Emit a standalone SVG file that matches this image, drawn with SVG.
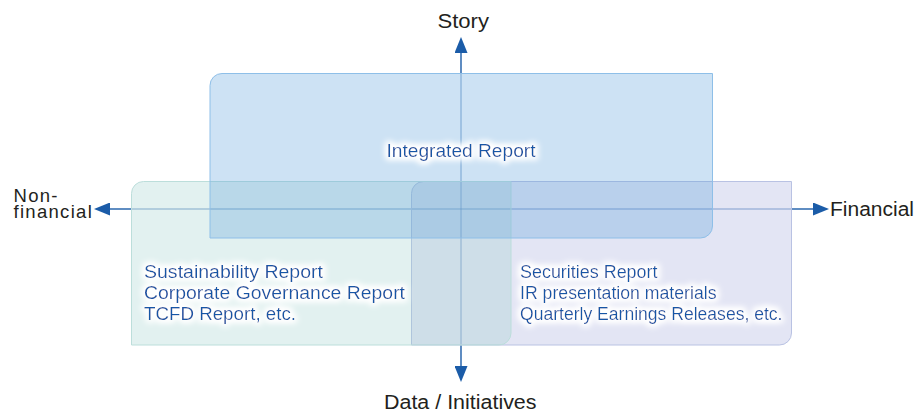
<svg xmlns="http://www.w3.org/2000/svg" width="917" height="412" viewBox="0 0 917 412">
<style>
.lbl{font-family:"Liberation Sans",Arial,sans-serif;font-size:18.8px;fill:#1656a6}
.ax{font-family:"Liberation Sans",Arial,sans-serif;font-size:19.5px;fill:#231f20}
.axis{stroke:#1b5ca8;stroke-width:1.4;fill:none}
.axin{stroke:#1b5ca8;stroke-opacity:0.4;stroke-width:1.4;fill:none}
</style>
<defs>
<marker id="ah" viewBox="0 0 16 13" refX="0" refY="6.5" markerWidth="16" markerHeight="13" markerUnits="userSpaceOnUse" orient="auto">
<path d="M0,0 L16,6.5 L0,13 Z" fill="#1b5ca8"/>
</marker>
<filter id="glow" x="-15%" y="-60%" width="130%" height="220%">
<feMorphology in="SourceAlpha" operator="dilate" radius="2" result="d"/>
<feGaussianBlur in="d" stdDeviation="3" result="b"/>
<feFlood flood-color="#ffffff"/>
<feComposite in2="b" operator="in" result="w"/>
<feMerge><feMergeNode in="w"/><feMergeNode in="w"/><feMergeNode in="SourceGraphic"/></feMerge>
</filter>
</defs>
<g id="connectors">
<line class="axis" x1="461" y1="74" x2="461" y2="53" marker-end="url(#ah)"/>
<line class="axis" x1="461" y1="345" x2="461" y2="366" marker-end="url(#ah)"/>
<line class="axis" x1="131.5" y1="209" x2="110" y2="209" marker-end="url(#ah)"/>
<line class="axis" x1="791.5" y1="209" x2="813" y2="209" marker-end="url(#ah)"/>
<line class="axin" x1="461" y1="74" x2="461" y2="345"/>
<line class="axin" x1="131.5" y1="209" x2="791.5" y2="209"/>
</g>
<g id="financial-box">
<path d="M411.5,345 V193.5 A12,12 0 0 1 423.5,181.5 H791.5 V333 A12,12 0 0 1 779.5,345 Z" fill="rgb(150,160,215)" fill-opacity="0.27" stroke="#b9c2e3" stroke-width="1"/>
</g>
<g id="nonfinancial-box">
<path d="M131.5,345 V193.5 A12,12 0 0 1 143.5,181.5 H511 V333 A12,12 0 0 1 499,345 Z" fill="rgb(150,205,200)" fill-opacity="0.28" stroke="#bcdedb" stroke-width="1"/>
</g>
<g id="integrated-box">
<path d="M210,238 V85.5 A12,12 0 0 1 222,73.5 H712.5 V226 A12,12 0 0 1 700.5,238 Z" fill="rgb(90,160,220)" fill-opacity="0.3" stroke="#8ebfe8" stroke-width="1"/>
</g>
<g id="integrated-label" filter="url(#glow)">
<text class="lbl" x="386.5" y="157" textLength="149" lengthAdjust="spacingAndGlyphs">Integrated Report</text>
</g>
<g id="nonfinancial-label" filter="url(#glow)">
<text class="lbl" x="144" y="277.5" textLength="179" lengthAdjust="spacingAndGlyphs">Sustainability Report</text>
<text class="lbl" x="144" y="298.5" textLength="261" lengthAdjust="spacingAndGlyphs">Corporate Governance Report</text>
<text class="lbl" x="144" y="319.5" textLength="152" lengthAdjust="spacingAndGlyphs">TCFD Report, etc.</text>
</g>
<g id="financial-label" filter="url(#glow)">
<text class="lbl" x="520" y="277.5" textLength="137.5" lengthAdjust="spacingAndGlyphs">Securities Report</text>
<text class="lbl" x="520" y="298.5" textLength="196.5" lengthAdjust="spacingAndGlyphs">IR presentation materials</text>
<text class="lbl" x="520" y="319.5" textLength="262.5" lengthAdjust="spacingAndGlyphs">Quarterly Earnings Releases, etc.</text>
</g>
<g id="axis-labels">
<text class="ax" x="437.5" y="28" textLength="51.5" lengthAdjust="spacingAndGlyphs">Story</text>
<text class="ax" x="384" y="408.5" textLength="152.5" lengthAdjust="spacingAndGlyphs">Data / Initiatives</text>
<text class="ax" x="830" y="215.5" textLength="84" lengthAdjust="spacingAndGlyphs">Financial</text>
<text class="ax" style="font-size:18.5px;letter-spacing:1.3px"><tspan x="13.5" y="201.5">Non-</tspan><tspan x="13.5" y="218">financial</tspan></text>
</g>
</svg>
